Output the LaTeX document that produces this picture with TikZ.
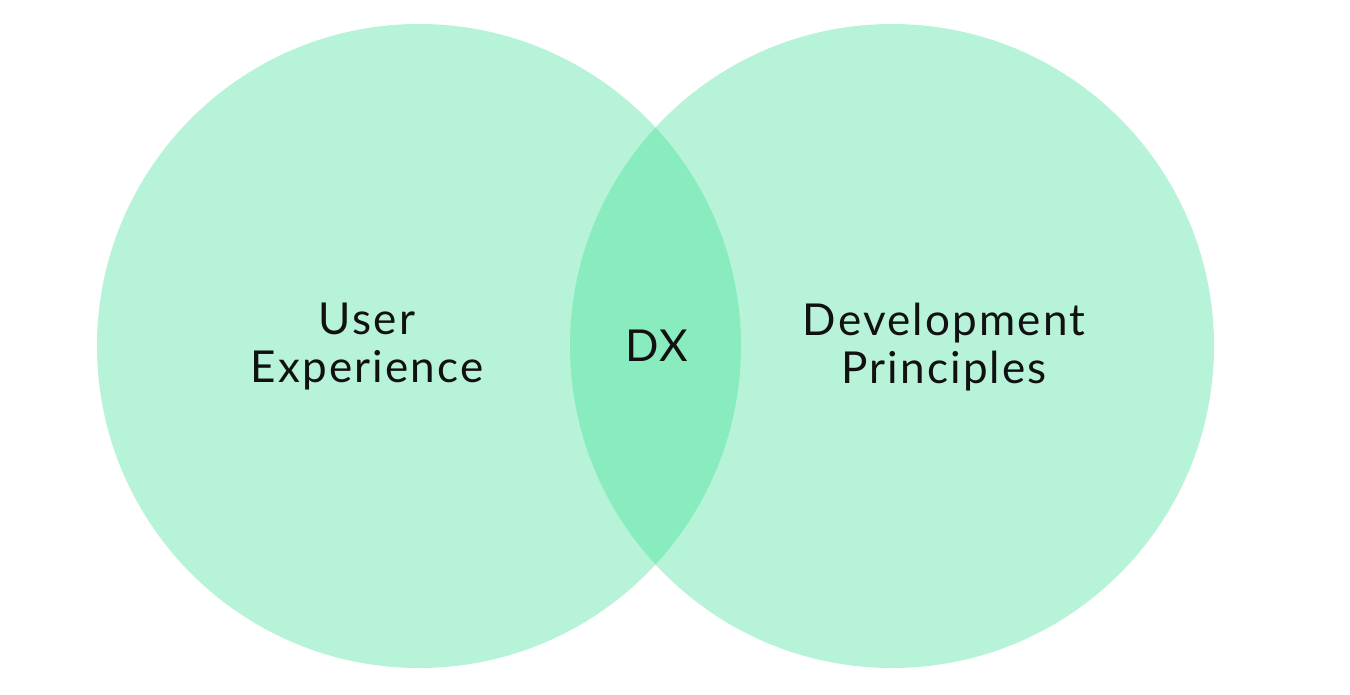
\documentclass[tikz,border=0pt]{standalone}
\usepackage{fontspec}
\setmainfont{Lato}[LetterSpace=5]
\usepackage{tikz}
\usetikzlibrary{positioning}
\definecolor{mintlight}{HTML}{B7F3D8}
\definecolor{mintdark}{HTML}{89ECBE}
\definecolor{labelink}{HTML}{111111}
\tikzstyle{venn} = [circle, minimum size=644pt, inner sep=0pt, fill=mintlight]
\tikzstyle{lens} = [fill=mintdark]
\tikzstyle{label} = [align=center, text=labelink, font=\fontsize{44}{48}\selectfont]

\begin{document}
\begin{tikzpicture}[x=1pt, y=-1pt]

\useasboundingbox (0,0) rectangle (1350,694);

% Circles
\node (ux) [venn] at (419,346) {};
\node (dp) [venn] at (892,346) {};

% Overlap
\begin{scope}
\clip (ux.center) circle (322pt);
\fill [lens] (dp.center) circle (322pt);
\end{scope}

% Labels
\node (uxtext) [label] at (367,347) {User\\Experience};
\node (dx) [label] at (657,346) {DX};
\node (dptext) [label] at (944,347) {Development\\Principles};

\end{tikzpicture}
\end{document}
